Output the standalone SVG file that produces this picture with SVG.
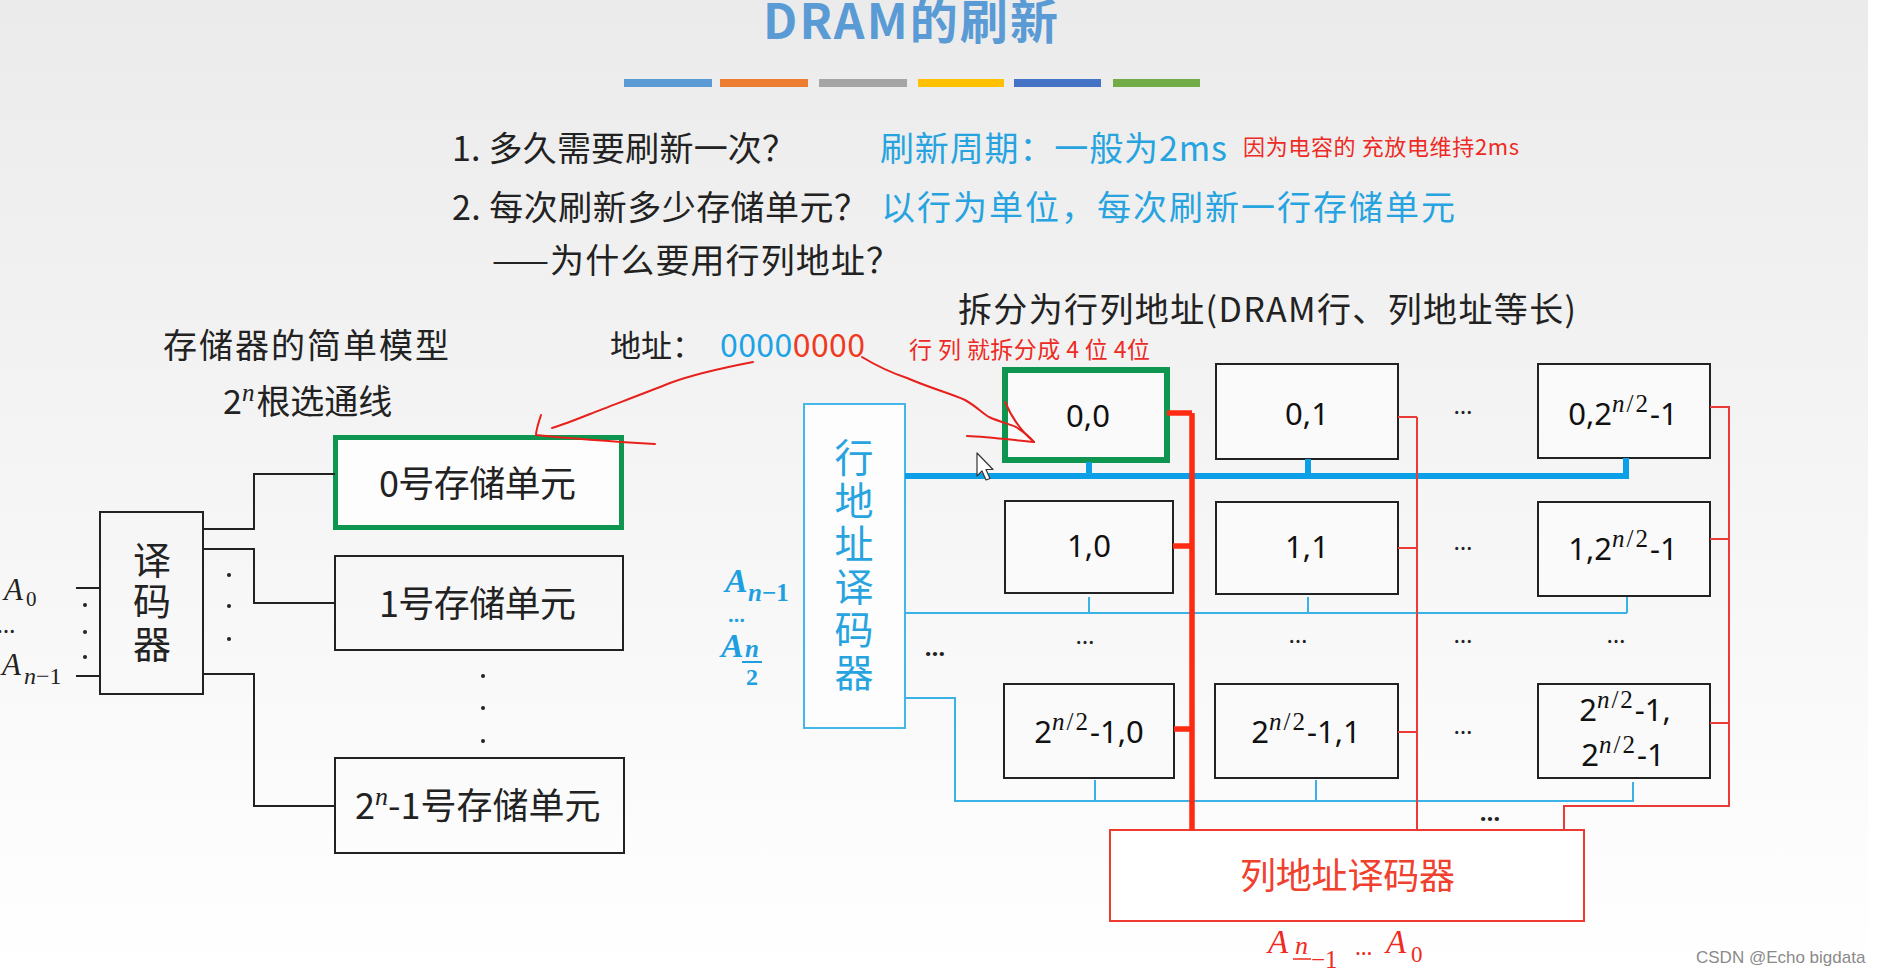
<svg xmlns="http://www.w3.org/2000/svg" width="1878" height="976" viewBox="0 0 1878 976">
<defs>
<linearGradient id="bg" x1="0" y1="0" x2="0" y2="1">
<stop offset="0" stop-color="#ebebeb"/>
<stop offset="0.45" stop-color="#f4f4f4"/>
<stop offset="1" stop-color="#ffffff"/>
</linearGradient>
<style>
.cjk{font-family:"Noto Sans CJK SC","Noto Sans",sans-serif;}
.t34{font-size:34px;fill:#222;}
.blue{fill:#27a4e0;}
.red{fill:#ee2a24;}
.cell{fill:#fafafa;stroke:#222;stroke-width:2;}
.ctext{font-family:"Noto Sans","Noto Sans CJK SC",sans-serif;font-size:31px;fill:#111;text-anchor:middle;}
.sup{font-family:"Liberation Serif","DejaVu Serif",serif;font-size:25px;letter-spacing:2px;}
.it{font-style:italic;}
.math{font-family:"Liberation Serif","DejaVu Serif",serif;font-style:italic;}
.blk{fill:none;stroke:#222;stroke-width:2;}
.bthin{fill:none;stroke:#3ab2e6;stroke-width:2;}
.bthick{fill:none;stroke:#0a9fe6;stroke-width:6;}
.rthin{fill:none;stroke:#ea3b36;stroke-width:2;}
.rthick{fill:none;stroke:#ff2a12;stroke-width:5.5;}
.ann{fill:none;stroke:#e8201c;stroke-width:2;stroke-linecap:round;stroke-linejoin:round;}
.dots{font-family:"Noto Sans",sans-serif;font-size:24px;fill:#222;text-anchor:middle;}
</style>
</defs>
<rect x="0" y="0" width="1878" height="976" fill="#ffffff"/>
<rect x="0" y="0" width="1868" height="976" fill="url(#bg)"/>

<g id="title">
<text x="763" y="39" class="cjk" font-size="48" font-weight="bold" fill="#5a9bd5" textLength="295">DRAM的刷新</text>
</g>
<g id="color-bars">
<rect x="624" y="79" width="88" height="8" fill="#5b9bd5"/>
<rect x="720" y="79" width="88" height="8" fill="#ed7d31"/>
<rect x="819" y="79" width="88" height="8" fill="#a5a5a5"/>
<rect x="918" y="79" width="86" height="8" fill="#ffc000"/>
<rect x="1014" y="79" width="87" height="8" fill="#4472c4"/>
<rect x="1113" y="79" width="87" height="8" fill="#70ad47"/>
</g>

<g id="questions">
<text x="452" y="161" class="cjk t34" textLength="344">1. 多久需要刷新一次？</text>
<text x="880" y="161" class="cjk blue" font-size="34" textLength="347">刷新周期：一般为2ms</text>
<text x="1243" y="155" class="cjk red" font-size="22" textLength="276">因为电容的 充放电维持2ms</text>
<text x="452" y="220" class="cjk t34" textLength="416">2. 每次刷新多少存储单元？</text>
<text x="881" y="220" class="cjk blue" font-size="34" textLength="574">以行为单位，每次刷新一行存储单元</text>
<text x="492" y="273" class="cjk t34" textLength="408">——为什么要用行列地址？</text>
<text x="958" y="322" class="cjk t34" textLength="618">拆分为行列地址(DRAM行、列地址等长)</text>
</g>

<g id="left-labels">
<text x="163" y="358" class="cjk t34" textLength="286">存储器的简单模型</text>
<text x="223" y="414" class="cjk t34">2<tspan class="math" font-size="25" dy="-13">n</tspan><tspan dy="13" dx="2">根选通线</tspan></text>
<text x="610" y="357" class="cjk" font-size="31" fill="#222">地址：</text>
<text x="720" y="357" class="cjk" font-size="32" textLength="145"><tspan fill="#1aa3e6">0000</tspan><tspan fill="#ee3a22">0000</tspan></text>
<text x="909" y="358" class="cjk red" font-size="23" textLength="241">行 列 就拆分成 4 位 4位</text>
</g>

<g id="decoder">
<rect x="100" y="512" width="103" height="182" class="blk" fill="#fdfdfd"/>
<text class="cjk" font-size="38" fill="#222" text-anchor="middle"><tspan x="152" y="574">译</tspan><tspan x="152" y="615">码</tspan><tspan x="152" y="658">器</tspan></text>
</g>
<g id="unit-0">
<rect x="335.5" y="437.5" width="286" height="90" fill="#fdfdfd" stroke="#0e9550" stroke-width="5"/>
<text x="379" y="497" class="cjk" font-size="36" fill="#222" textLength="197">0号存储单元</text>
</g>
<g id="unit-1">
<rect x="335" y="556" width="288" height="94" class="blk" fill="#fdfdfd"/>
<text x="379" y="617" class="cjk" font-size="36" fill="#222" textLength="197">1号存储单元</text>
</g>
<g id="unit-last">
<rect x="335" y="758" width="289" height="95" class="blk" fill="#ffffff"/>
<text x="355" y="819" class="cjk" font-size="36" fill="#222">2<tspan class="math" font-size="26" dy="-14">n</tspan><tspan dy="14">-1号存储单元</tspan></text>
</g>
<g id="left-inputs">
<text x="4" y="600" class="math" font-size="31" fill="#222">A</text>
<text x="26" y="606" font-family="Liberation Serif,serif" font-size="21" fill="#222">0</text>
<text x="6" y="633" class="dots" font-size="22" text-anchor="start">…</text>
<text x="2" y="675" class="math" font-size="31" fill="#222">A</text>
<text x="24" y="684" font-family="Liberation Serif,serif" font-size="24" fill="#222"><tspan font-style="italic">n</tspan>−1</text>
</g>

<g id="row-decoder">
<rect x="804" y="404" width="101" height="324" fill="#fdfdfd" stroke="#45b6e8" stroke-width="2"/>
<text class="cjk blue" font-size="39" text-anchor="middle"><tspan x="854" y="472">行</tspan><tspan x="854" y="515">地</tspan><tspan x="854" y="558">址</tspan><tspan x="854" y="601">译</tspan><tspan x="854" y="644">码</tspan><tspan x="854" y="687">器</tspan></text>
</g>
<g id="row-inputs" fill="#1e9fe0" font-family="Liberation Serif,DejaVu Serif,serif" font-weight="bold">
<text x="725" y="592" font-size="34" font-style="italic">A</text>
<text x="748" y="601" font-size="25"><tspan font-style="italic">n</tspan>−1</text>
<text x="728" y="622" font-size="20" font-family="Noto Sans,sans-serif">…</text>
<text x="721" y="657" font-size="34" font-style="italic">A</text>
<text x="745" y="657" font-size="25" font-style="italic">n</text>
<line x1="742" y1="662" x2="762" y2="662" stroke="#1e9fe0" stroke-width="2"/>
<text x="746" y="685" font-size="24">2</text>
</g>

<g id="cell-0-0">
<rect x="1005" y="370" width="162" height="90" fill="#fafafa" stroke="#0e9550" stroke-width="6"/>
<text x="1088" y="427" class="ctext">0,0</text>
</g>
<g id="cell-0-1">
<rect x="1216" y="364" width="182" height="95" class="cell"/>
<text x="1307" y="425" class="ctext">0,1</text>
</g>
<g id="cell-0-last">
<rect x="1538" y="364" width="172" height="94" class="cell"/>
<text x="1623" y="425" class="ctext">0,2<tspan class="sup" dy="-13"><tspan class="it">n</tspan>/2</tspan><tspan dy="13">-1</tspan></text>
</g>
<g id="cell-1-0">
<rect x="1005" y="501" width="168" height="92" class="cell"/>
<text x="1089" y="557" class="ctext">1,0</text>
</g>
<g id="cell-1-1">
<rect x="1216" y="502" width="182" height="92" class="cell"/>
<text x="1307" y="558" class="ctext">1,1</text>
</g>
<g id="cell-1-last">
<rect x="1538" y="502" width="172" height="94" class="cell"/>
<text x="1623" y="560" class="ctext">1,2<tspan class="sup" dy="-13"><tspan class="it">n</tspan>/2</tspan><tspan dy="13">-1</tspan></text>
</g>
<g id="cell-last-0">
<rect x="1004" y="684" width="170" height="94" class="cell"/>
<text x="1089" y="743" class="ctext">2<tspan class="sup" dy="-13"><tspan class="it">n</tspan>/2</tspan><tspan dy="13">-1,0</tspan></text>
</g>
<g id="cell-last-1">
<rect x="1215" y="684" width="183" height="94" class="cell"/>
<text x="1306" y="743" class="ctext">2<tspan class="sup" dy="-13"><tspan class="it">n</tspan>/2</tspan><tspan dy="13">-1,1</tspan></text>
</g>
<g id="cell-last-last">
<rect x="1538" y="684" width="172" height="94" class="cell"/>
<text class="ctext"><tspan x="1625" y="721">2</tspan><tspan class="sup" dy="-13"><tspan class="it">n</tspan>/2</tspan><tspan dy="13">-1,</tspan></text>
<text x="1623" y="766" class="ctext">2<tspan class="sup" dy="-13"><tspan class="it">n</tspan>/2</tspan><tspan dy="13">-1</tspan></text>
</g>

<g id="col-decoder">
<rect x="1110" y="830" width="474" height="91" fill="#ffffff" stroke="#ee3b30" stroke-width="2"/>
<text x="1240" y="889" class="cjk" font-size="36" fill="#f0402e" textLength="215">列地址译码器</text>
</g>
<g id="col-inputs" fill="#ee2a22" font-family="Liberation Serif,DejaVu Serif,serif">
<text x="1268" y="953" font-size="33" font-style="italic">A</text>
<text x="1295" y="954" font-size="26" font-style="italic">n</text>
<line x1="1293" y1="959" x2="1311" y2="959" stroke="#ee2a22" stroke-width="1.5"/>
<text x="1311" y="968" font-size="25">−1</text>
<text x="1355" y="955" font-size="22" font-family="Noto Sans,sans-serif">…</text>
<text x="1386" y="953" font-size="33" font-style="italic">A</text>
<text x="1411" y="962" font-size="23">0</text>
</g>

<g id="connectors">
<path class="blk" d="M203,529 H254 V474 H335"/>
<path class="blk" d="M203,549 H254 V603 H335"/>
<path class="blk" d="M203,674 H254 V806 H335"/>
<path class="blk" d="M76,588 H100"/>
<path class="blk" d="M76,676 H100"/>
<path class="bthin" d="M905,613 H1627 M1089,597 V613 M1308,597 V613 M1627,597 V613"/>
<path class="bthin" d="M905,698 H955 V801 H1634 M1095,780 V801 M1316,780 V801 M1633,782 V801"/>
<path class="bthick" d="M905,476 H1626 M1089,462 V476 M1308,459 V476 M1626,458 V479"/>
<path class="rthick" d="M1192,413 V830 M1167,413 H1192 M1173,546 H1192 M1174,729 H1192"/>
<path class="rthin" d="M1417,417 V830 M1398,417 H1417 M1398,548 H1417 M1398,732 H1417"/>
<path class="rthin" d="M1710,407 H1729 V806 H1564 V830 M1710,539 H1729 M1710,723 H1729"/>
</g>

<g id="ellipses">
<circle cx="229" cy="575" r="2" fill="#222"/>
<circle cx="229" cy="606" r="2" fill="#222"/>
<circle cx="229" cy="639" r="2" fill="#222"/>
<circle cx="85" cy="605" r="2" fill="#222"/>
<circle cx="85" cy="632" r="2" fill="#222"/>
<circle cx="85" cy="657" r="2" fill="#222"/>
<circle cx="483" cy="676" r="2" fill="#222"/>
<circle cx="483" cy="708" r="2" fill="#222"/>
<circle cx="483" cy="741" r="2" fill="#222"/>
<text x="1463" y="414" class="dots">…</text>
<text x="1463" y="550" class="dots">…</text>
<text x="1085" y="644" class="dots">…</text>
<text x="1298" y="643" class="dots">…</text>
<text x="1463" y="643" class="dots">…</text>
<text x="1616" y="643" class="dots">…</text>
<text x="1463" y="734" class="dots">…</text>
<text x="935" y="656" class="dots" fill="#1e9fe0" font-weight="bold">…</text>
<text x="1490" y="821" class="dots" fill="#ee2a22" font-weight="bold">…</text>
</g>

<g id="annotations">
<path class="ann" d="M753,362 C722,368 694,374 670,383 C640,395 610,406 590,414 C575,420 562,425 552,428"/>
<path class="ann" d="M541,415 C538,424 536,430 536,435 C575,439 620,442 655,444"/>
<path class="ann" d="M862,357 C880,368 895,374 907,378 C930,388 952,394 965,400 C976,406 982,413 989,417 C1000,422 1010,424 1016,427 C1024,432 1030,437 1034,442"/>
<path class="ann" d="M1005,402 C1012,418 1022,432 1034,442"/>
<path class="ann" d="M967,436 C990,437 1012,440 1034,442"/>
</g>

<g id="cursor">
<path d="M977,453 V476 L982,471 L986,480 L990,478.5 L986,469.5 L993,469.5 Z" fill="#ffffff" stroke="#333" stroke-width="1.2" stroke-linejoin="round"/>
</g>

<g id="watermark">
<text x="1696" y="963" font-family="Liberation Sans,Arial,sans-serif" font-size="17" fill="#8a8a8a">CSDN @Echo bigdata</text>
</g>
</svg>
